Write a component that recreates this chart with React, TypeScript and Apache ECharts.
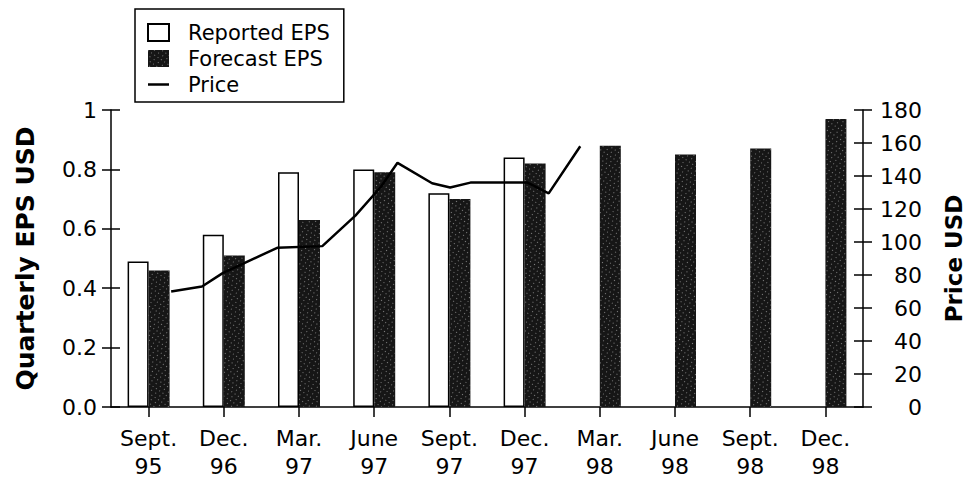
import React, { useEffect, useRef } from "react";
import * as echarts from "echarts";

const categories = [
  "Sept.\n95",
  "Dec.\n96",
  "Mar.\n97",
  "June\n97",
  "Sept.\n97",
  "Dec.\n97",
  "Mar.\n98",
  "June\n98",
  "Sept.\n98",
  "Dec.\n98",
];
const reportedEPS = [0.49, 0.58, 0.79, 0.8, 0.72, 0.84, null, null, null, null];
const forecastEPS = [0.46, 0.51, 0.63, 0.79, 0.7, 0.82, 0.88, 0.85, 0.87, 0.97];
// price line: position along the category axis (0 = first category) and price
const pricePos = [0.3, 0.71, 0.98, 1.71, 2.31, 2.75, 3.09, 3.31, 3.77, 4.01, 4.28, 5.04, 5.32, 5.74];
const priceVal = [70, 73, 81, 96.5, 97.5, 116, 133.5, 148, 135.6, 133, 136, 136, 129.5, 158];

const FONT = "DejaVu Sans";
const LINE_ICON = "path://M0,0L0.1,0L0,0.1Z M0,7.3L21,7.3L21,9.8L0,9.8Z M20.9,17L21,17L21,16.9Z";

export default function App() {
  const ref = useRef<HTMLDivElement>(null);
  useEffect(() => {
    if (!ref.current) return;
    const chart = echarts.init(ref.current, null, { renderer: "svg" });
    const axisLine = { show: true, onZero: false, lineStyle: { color: "#000", width: 1.5 } };
    const tickStyle = { color: "#000", width: 1.5 };
    chart.setOption({
      animation: false,
      backgroundColor: "#fff",
      textStyle: { fontFamily: FONT, color: "#000" },
      grid: { left: 111, right: 102, top: 110, bottom: 70, outerBoundsMode: "none" },
      legend: {
        orient: "vertical",
        left: 135,
        top: 9,
        padding: [13, 14, 7, 12],
        itemWidth: 21,
        itemHeight: 17,
        itemGap: 5,
        borderColor: "#000",
        borderWidth: 1.5,
        textStyle: {
          fontFamily: FONT,
          fontSize: 21,
          color: "#000",
          padding: [0, 0, 0, 14],
        },
        data: [
          { name: "Reported EPS", icon: "rect" },
          { name: "Forecast EPS", icon: "rect" },
          { name: "Price", icon: LINE_ICON, itemStyle: { color: "#000", borderWidth: 0 } },
        ],
      },
      xAxis: [
        {
          type: "category",
          data: categories,
          axisLine,
          axisTick: { show: true, alignWithLabel: true, length: 10, lineStyle: tickStyle },
          axisLabel: {
            fontFamily: FONT,
            fontSize: 22,
            lineHeight: 28,
            color: "#000",
            margin: 17,
            interval: 0,
          },
          splitLine: { show: false },
        },
        {
          type: "value",
          min: -0.5,
          max: 9.5,
          show: false,
        },
      ],
      yAxis: [
        {
          type: "value",
          min: 0,
          max: 1,
          interval: 0.2,
          position: "left",
          name: "Quarterly EPS USD",
          nameLocation: "middle",
          nameGap: 73,
          nameTextStyle: { fontFamily: FONT, fontSize: 25, fontWeight: "bold", color: "#000" },
          axisLine,
          axisTick: { show: true, length: 9, lineStyle: tickStyle },
          axisLabel: {
            fontFamily: FONT,
            fontSize: 22,
            color: "#000",
            margin: 14,
            formatter: (v: number) => (v === 1 ? "1" : v.toFixed(1)),
          },
          splitLine: { show: false },
        },
        {
          type: "value",
          min: 0,
          max: 180,
          interval: 20,
          position: "right",
          name: "Price USD",
          nameLocation: "middle",
          nameGap: 79,
          nameTextStyle: { fontFamily: FONT, fontSize: 23, fontWeight: "bold", color: "#000" },
          axisLine,
          axisTick: { show: true, length: 9, lineStyle: tickStyle },
          axisLabel: {
            fontFamily: FONT,
            fontSize: 22,
            color: "#000",
            margin: 59,
            align: "right",
          },
          splitLine: { show: false },
        },
        {
          type: "value",
          min: 0,
          max: 1,
          interval: 0.2,
          position: "left",
          axisLine: { show: false, onZero: false },
          axisTick: { show: true, inside: true, length: 9, lineStyle: tickStyle },
          axisLabel: { show: false },
          splitLine: { show: false },
        },
        {
          type: "value",
          min: 0,
          max: 180,
          interval: 20,
          position: "right",
          axisLine: { show: false, onZero: false },
          axisTick: { show: true, inside: true, length: 9, lineStyle: tickStyle },
          axisLabel: { show: false },
          splitLine: { show: false },
        },
      ],
      series: [
        {
          name: "Reported EPS",
          type: "bar",
          xAxisIndex: 0,
          yAxisIndex: 0,
          data: reportedEPS,
          barWidth: 21,
          barGap: "0%",
          itemStyle: { color: "#fff", borderColor: "#000", borderWidth: 1.5 },
        },
        {
          name: "Forecast EPS",
          type: "bar",
          xAxisIndex: 0,
          yAxisIndex: 0,
          data: forecastEPS,
          barWidth: 21,
          barGap: "0%",
          itemStyle: {
            color: "#161616",
            decal: {
              symbol: "rect",
              symbolSize: 1,
              color: "rgba(255,255,255,0.45)",
              dashArrayX: [[1, 4], [1, 3]],
              dashArrayY: [1, 3],
              rotation: 0.6,
            },
          },
        },
        {
          name: "Price",
          type: "line",
          xAxisIndex: 1,
          yAxisIndex: 1,
          data: pricePos.map((p, i) => [p, priceVal[i]]),
          symbol: "none",
          lineStyle: { color: "#000", width: 2.5 },
          itemStyle: { color: "#000" },
          z: 5,
        },
      ],
    });
    return () => chart.dispose();
  }, []);
  return (
    <div
      ref={ref}
      style={{ position: "fixed", left: 0, top: 0, width: 965, height: 477, background: "#fff" }}
    />
  );
}
